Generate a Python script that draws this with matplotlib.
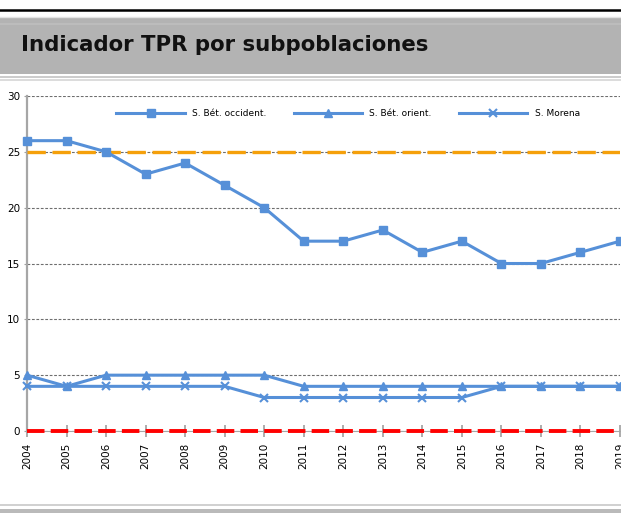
import matplotlib
matplotlib.use("Agg")
import matplotlib.pyplot as plt
from matplotlib.patches import Rectangle
from matplotlib.lines import Line2D

# data
years = list(range(2004, 2020))
occident = [26, 26, 25, 23, 24, 22, 20, 17, 17, 18, 16, 17, 15, 15, 16, 17]
orient = [5, 4, 5, 5, 5, 5, 5, 4, 4, 4, 4, 4, 4, 4, 4, 4]
morena = [4, 4, 4, 4, 4, 4, 3, 3, 3, 3, 3, 3, 4, 4, 4, 4]
series_names = ["S. Bét. occident.", "S. Bét. orient.", "S. Morena"]
upper_ref = 25
lower_ref = 0
y_ticks = [0, 5, 10, 15, 20, 25, 30]

W, H = 621, 518
BLUE = "#5690d8"

fig = plt.figure(figsize=(W / 100, H / 100), dpi=100)


def fy(py):
    # pixel row from top -> figure fraction
    return 1 - py / H


# header decoration
fig.add_artist(Line2D([0, 1], [fy(10), fy(10)], color="black", lw=1.8))
fig.add_artist(Line2D([0, 1], [fy(16.5), fy(16.5)], color="#e4e4e4", lw=1.0))
fig.add_artist(Rectangle((0, fy(73.5)), 1, (73.5 - 18) / H, color="#b3b3b3", lw=0))
fig.add_artist(Rectangle((0, fy(25)), 1, 1.5 / H, color="#bcbcbc", lw=0))
fig.add_artist(Line2D([0, 1], [fy(76.5), fy(76.5)], color="#c4c4c4", lw=1.2))
fig.add_artist(Line2D([0, 1], [fy(79.5), fy(79.5)], color="#d6d6d6", lw=1.2))
fig.text(21 / W, fy(45), "Indicador TPR por subpoblaciones", fontsize=15.3,
         fontweight="bold", color="#111111", va="center", ha="left")

# footer decoration
fig.add_artist(Line2D([0, 1], [fy(505), fy(505)], color="#c8c8c8", lw=1.2))
fig.add_artist(Rectangle((0, fy(513)), 1, 4 / H, color="#bababa", lw=0))

# plot area
left, right = 27 / W, 620 / W
bottom, top = fy(431), fy(96)
ax = fig.add_axes([left, bottom, right - left, top - bottom])
ax.set_xlim(years[0], years[-1])
ax.set_ylim(0, 30)

ax.axhline(upper_ref, color="#f5a00a", lw=2.4, dashes=(5.5, 2), zorder=3)

ax.plot(years, occident, color=BLUE, lw=2.2, marker="s", ms=5.6,
        label=series_names[0], zorder=4, clip_on=False)
ax.plot(years, orient, color=BLUE, lw=2.2, marker="^", ms=5.8,
        label=series_names[1], zorder=4, clip_on=False)
ax.plot(years, morena, color=BLUE, lw=2.2, marker="x", ms=5.5, mew=1.5,
        label=series_names[2], zorder=4, clip_on=False)

ax.axhline(lower_ref, color="#ff0000", lw=2.8, dashes=(4.5, 1.6), zorder=5,
           clip_on=False)

ax.set_yticks(y_ticks)
ax.set_xticks(years)
ax.set_xticklabels([str(y) for y in years], rotation=90)
ax.tick_params(axis="y", length=2, color="#a0a0a0", labelsize=7.5, pad=3)
ax.tick_params(axis="x", length=9, direction="inout", color="#a6a6a6",
               width=1.3, labelsize=7.5, pad=4)
ax.yaxis.grid(True, color="#6e6e6e", lw=0.8, dashes=(2.5, 1.5))
ax.set_axisbelow(True)

for s in ["top", "right"]:
    ax.spines[s].set_visible(False)
ax.spines["left"].set_color("#a6a6a6")
ax.spines["left"].set_linewidth(1.6)
ax.spines["bottom"].set_color("#a6a6a6")

leg = ax.legend(loc="center", bbox_to_anchor=(348 / W, fy(114)),
                bbox_transform=fig.transFigure, ncol=3, frameon=False,
                fontsize=6.5, handlelength=7.6, handletextpad=0.8,
                columnspacing=3.0, borderaxespad=0)

fig.savefig("out.png", dpi=100)
